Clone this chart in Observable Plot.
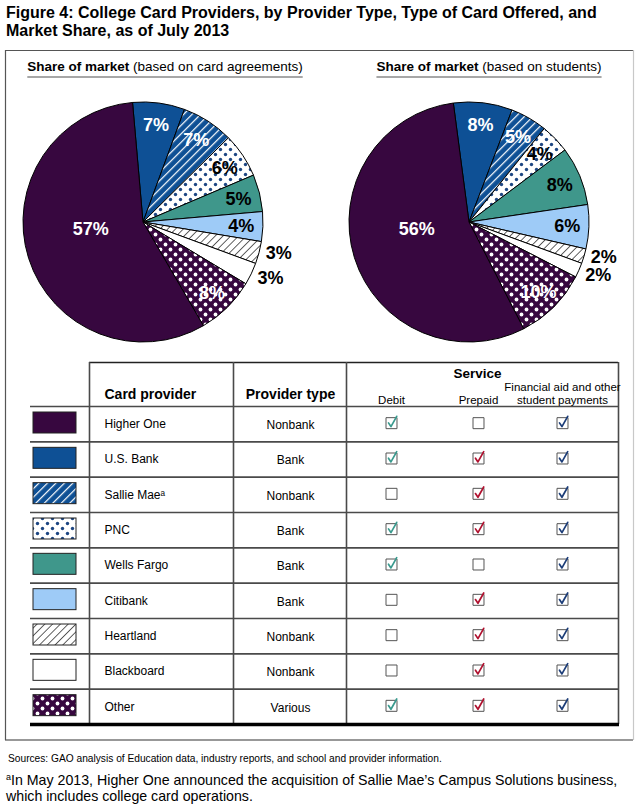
<!DOCTYPE html>
<html><head><meta charset="utf-8">
<script src="https://cdn.jsdelivr.net/npm/d3@7"></script>
<script src="https://cdn.jsdelivr.net/npm/@observablehq/plot@0.6"></script>
<style>
body{margin:0;background:#fff;font-family:"Liberation Sans",Arial,sans-serif;color:#000;width:640px;height:805px;overflow:hidden;position:relative}
#title{position:absolute;left:6px;top:4px;font-weight:bold;font-size:16px;line-height:18px;white-space:nowrap}
#chart{position:absolute;left:0;top:46px}
#src{position:absolute;left:8px;top:753px;font-size:10.2px;white-space:nowrap}
#note{position:absolute;left:6px;top:769px;font-size:14.2px;line-height:16px;white-space:nowrap}
#note .sup{font-size:9px;vertical-align:5px}
</style></head><body>
<div id="title">Figure 4: College Card Providers, by Provider Type, Type of Card Offered, and<br>Market Share, as of July 2013</div>
<div id="chart"></div>
<div id="src">Sources: GAO analysis of Education data, industry reports, and school and provider information.</div>
<div id="note"><span class="sup">a</span>In May 2013, Higher One announced the acquisition of Sallie Mae’s Campus Solutions business,<br>which includes college card operations.</div>
<script>
// ---------------- data ----------------
const providers = ["Higher One","U.S. Bank","Sallie Mae","PNC","Wells Fargo","Citibank","Heartland","Blackboard","Other"];
const providerTypes = ["Nonbank","Bank","Nonbank","Bank","Bank","Bank","Nonbank","Nonbank","Various"];
const shareByAgreements = [57,7,7,6,5,4,3,3,8];
const shareByStudents = [56,8,5,4,8,6,2,2,10];
const serviceNames = ["Debit","Prepaid","Financial aid and other\nstudent payments"];
const offersDebit = [true,true,false,true,true,false,false,false,true];
const offersPrepaid = [false,true,true,true,false,true,true,true,true];
const offersFinancialAid = [true,true,true,true,true,true,true,true,true];
const pieTitleBold = ["Share of market","Share of market"];
const pieTitleRest = [" (based on card agreements)"," (based on students)"];

// ---------------- styles ----------------
const usBlue = "#0e5095", purple = "#37073f";
const fillOf = {
  "Higher One": purple, "U.S. Bank": usBlue, "Sallie Mae": "url(#pSallie)", "PNC": "url(#pPNC)",
  "Wells Fargo": "#3f978b", "Citibank": "#9ecbf7", "Heartland": "url(#pHeart)", "Blackboard": "#ffffff",
  "Other": "url(#pOther)"
};
const darkSlices = new Set(["Higher One","U.S. Bank","Sallie Mae","Other"]);
const checkColors = ["#3a9a8e","#b0112f","#1c3d78"];
const colX = [391, 478, 562];

// table rows
const rows = providers.map((name, i) => ({
  name, type: providerTypes[i],
  label: name === "Sallie Mae" ? name + "ᵃ" : name,
  services: [offersDebit[i], offersPrepaid[i], offersFinancialAid[i]]
}));
const cells = rows.flatMap(r => r.services.map((on, col) => ({row: r.name, col, on})));

const rowTop = d3.scaleBand().domain(providers).range([406, 724]).padding(0);
const bw = rowTop.bandwidth();
const rowMid = name => rowTop(name) + bw / 2;

const pies = [
  {shares: shareByAgreements, cx: 143, cy: 222, r: 120, start: -5, tx: 165, k: 0},
  {shares: shareByStudents, cx: 469, cy: 222, r: 120, start: -7.5, tx: 489, k: 1}
];

function pieMark(index, scales) {
  const X = (scales && scales.x) || (v => v);
  const Y = (scales && scales.y) || (v => v - 46);
  const g = d3.create("svg:g");
  const defs = g.append("defs");
  const pat = (id, w, tr) => defs.append("pattern").attr("id", id)
    .attr("patternUnits", "userSpaceOnUse").attr("width", w).attr("height", w)
    .attr("patternTransform", tr);
  let p = pat("pSallie", 6, "rotate(45)");
  p.append("rect").attr("width", 6).attr("height", 6).attr("fill", usBlue);
  p.append("rect").attr("width", 1.2).attr("height", 6).attr("fill", "#fff");
  p = pat("pHeart", 5.5, "rotate(45)");
  p.append("rect").attr("width", 5.5).attr("height", 5.5).attr("fill", "#fff");
  p.append("rect").attr("width", 0.8).attr("height", 5.5).attr("fill", "#3a3a3a");
  p = pat("pPNC", 10, null);
  p.append("rect").attr("width", 10).attr("height", 10).attr("fill", "#fff");
  p.append("circle").attr("cx", 2.5).attr("cy", 2.5).attr("r", 1.7).attr("fill", "#1d4683");
  p.append("circle").attr("cx", 7.5).attr("cy", 7.5).attr("r", 1.7).attr("fill", "#1d4683");
  p = pat("pOther", 10, null);
  p.append("rect").attr("width", 10).attr("height", 10).attr("fill", purple);
  p.append("circle").attr("cx", 2.5).attr("cy", 2.5).attr("r", 1.9).attr("fill", "#fff");
  p.append("circle").attr("cx", 7.5).attr("cy", 7.5).attr("r", 1.9).attr("fill", "#fff");

  const order = [1,2,3,4,5,6,7,8,0];
  for (const pie of pies) {
    const a0 = pie.start * Math.PI / 180;
    const arcs = d3.pie().sort(null).value(i => pie.shares[i])
      .startAngle(a0).endAngle(a0 + 2 * Math.PI)(order);
    const r = X(pie.r) - X(0);
    const arc = d3.arc().innerRadius(0).outerRadius(r);
    const sg = g.append("g").attr("transform", `translate(${X(pie.cx)},${Y(pie.cy)})`);
    sg.selectAll("path").data(arcs).join("path")
      .attr("d", arc).attr("fill", d => fillOf[providers[d.data]])
      .attr("stroke", "#000").attr("stroke-width", 1).attr("stroke-linejoin", "round");
    const maxI = d3.maxIndex(pie.shares);
    let lastOutsideY = -Infinity;
    for (const d of arcs) {
      const i = d.data, v = pie.shares[i];
      let a = (d.startAngle + d.endAngle) / 2, rr, outside = false;
      if (i === maxI) { a += 10 * Math.PI / 180; rr = 0.44 * r; }
      else if (v < 4) { a -= 2 * Math.PI / 180; rr = 1.16 * r; outside = true; }
      else rr = 0.82 * r;
      const lx = rr * Math.sin(a);
      let ly = -rr * Math.cos(a);
      if (outside) { ly = Math.max(ly, lastOutsideY + 18); lastOutsideY = ly; }
      sg.append("text").attr("x", lx).attr("y", ly)
        .attr("text-anchor", "middle").attr("dy", "0.36em")
        .attr("font-weight", "bold").attr("font-size", 18)
        .attr("fill", !outside && darkSlices.has(providers[i]) ? "#fff" : "#000")
        .text(v + "%");
    }
    const t = g.append("text").attr("class", "pie-title")
      .attr("x", X(pie.tx)).attr("y", Y(71)).attr("text-anchor", "middle").attr("font-size", 13.5);
    t.append("tspan").attr("font-weight", "bold").text(pieTitleBold[pie.k]);
    t.append("tspan").text(pieTitleRest[pie.k]);
  }
  return g.node();
}

const checkSymbol = {
  draw(ctx, size) {
    const s = Math.sqrt(size) / 2;
    ctx.moveTo(-0.55 * s, -0.05 * s);
    ctx.lineTo(-0.1 * s, 0.62 * s);
    ctx.lineTo(0.95 * s, -1.25 * s);
  }
};

const ruleStroke = "#4a4a4a";
const svg = Plot.plot({
  width: 640, height: 700, margin: 0,
  x: {domain: [0, 640], range: [0, 640], axis: null},
  y: {domain: [46, 746], range: [0, 700], axis: null},
  color: {type: "identity"},
  style: {fontFamily: "'Liberation Sans', Arial, sans-serif", background: "white", overflow: "visible", color: "#000"},
  marks: [
    // outer box
    Plot.ruleY([50], {x1: 5, x2: 633, stroke: "#555", strokeWidth: 1.2}),
    Plot.ruleY([739.5], {x1: 5, x2: 633, stroke: "#333", strokeWidth: 1.2}),
    Plot.ruleX([5], {y1: 50, y2: 740, stroke: "#555", strokeWidth: 1.2}),
    Plot.ruleX([633], {y1: 50, y2: 740, stroke: "#c8c8c8", strokeWidth: 1.2}),
    // pies
    pieMark,
    // table grid
    Plot.ruleY(providers.map(p => rowTop(p)), {x1: 30, x2: 618, stroke: ruleStroke, strokeWidth: 1.6}),
    Plot.ruleY([362], {x1: 89, x2: 618, stroke: "#222", strokeWidth: 1.5}),
    Plot.ruleX([89, 233, 346, 618], {y1: 362, y2: 724, stroke: ruleStroke, strokeWidth: 1.6}),
    Plot.ruleY([724], {x1: 30, x2: 619, stroke: "#000", strokeWidth: 3.5}),
    // legend swatches
    Plot.rect(rows, {x1: 33, x2: 76, y1: d => rowTop(d.name) + 6, y2: d => rowTop(d.name) + 27,
      fill: d => fillOf[d.name], stroke: "#222", strokeWidth: 1}),
    // headers
    Plot.text(["Card provider"], {x: 104, y: 394, textAnchor: "start", fontWeight: "bold", fontSize: 14}),
    Plot.text(["Provider type"], {x: 290, y: 394, fontWeight: "bold", fontSize: 14}),
    Plot.text(["Service"], {x: 477, y: 373, fontWeight: "bold", fontSize: 13.5}),
    Plot.text(serviceNames, {x: (d, i) => colX[i], y: 403, lineAnchor: "bottom", fontSize: 11.5, lineHeight: 1.1, ariaLabel: "narrow"}),
    // row text
    Plot.text(rows, {x: 104, y: d => rowMid(d.name), text: "label", textAnchor: "start", fontSize: 12}),
    Plot.text(rows, {x: 290, y: d => rowMid(d.name) + 1, text: "type", fontSize: 12}),
    // checkboxes
    Plot.dot(cells, {x: d => colX[d.col], y: d => rowMid(d.row) - 1, symbol: "square", r: 6.2,
      fill: "white", stroke: "#555", strokeWidth: 1}),
    Plot.dot(cells.filter(d => d.on), {x: d => colX[d.col], y: d => rowMid(d.row) - 1, symbol: checkSymbol, r: 6.2,
      fill: "none", stroke: d => checkColors[d.col], strokeWidth: 1.7, strokeLinecap: "round", strokeLinejoin: "round"})
  ]
});
document.getElementById("chart").append(svg);

// condensed sub-headers
svg.querySelectorAll('g[aria-label="narrow"] text').forEach(t => {
  const tr = t.getAttribute("transform") || "";
  let tx = 0, ty = 0;
  if (t.hasAttribute("x")) { tx = +t.getAttribute("x"); t.removeAttribute("x"); }
  if (t.hasAttribute("y")) { ty = +t.getAttribute("y"); t.removeAttribute("y"); }
  t.setAttribute("transform", `${tr} translate(${tx},${ty}) scale(0.87,1)`);
});
// underline pie titles
svg.querySelectorAll("text.pie-title").forEach(t => {
  const b = t.getBBox();
  const ln = document.createElementNS("http://www.w3.org/2000/svg", "line");
  ln.setAttribute("x1", b.x); ln.setAttribute("x2", b.x + b.width);
  ln.setAttribute("y1", 77 - 46); ln.setAttribute("y2", 77 - 46);
  ln.setAttribute("stroke", "#8a8a8a"); ln.setAttribute("stroke-width", 1.5);
  t.parentNode.appendChild(ln);
});
</script>
</body></html>
